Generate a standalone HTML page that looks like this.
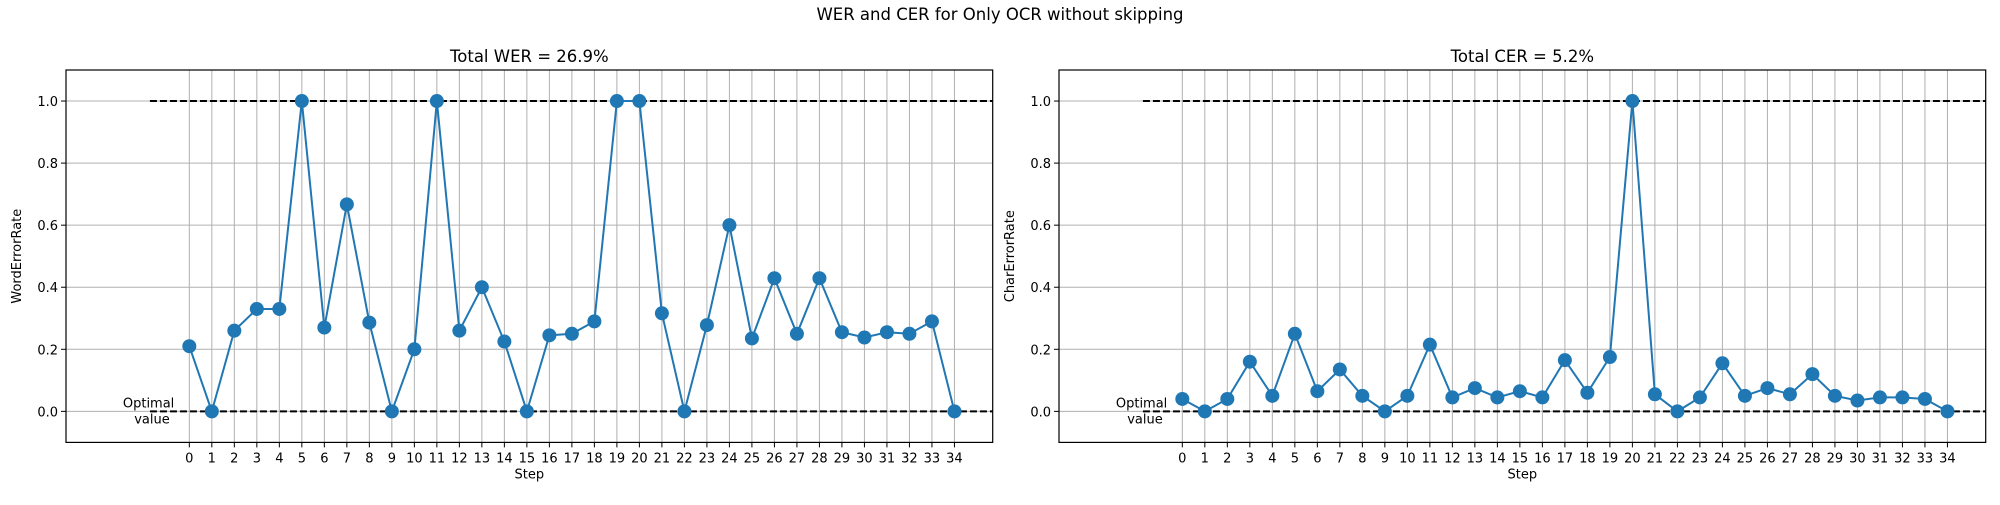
<!DOCTYPE html>
<html><head><meta charset="utf-8"><style>
body{margin:0;background:#fff;}
svg text{font-family:"DejaVu Sans","Liberation Sans",sans-serif;fill:#000;}
</style></head><body>
<svg id="fig" width="2000" height="500" xmlns="http://www.w3.org/2000/svg">
<rect width="2000" height="500" fill="#fff"/>
<text x="1000" y="20" font-size="16.5" text-anchor="middle">WER and CER for Only OCR without skipping</text>
</svg>
<script>
const steps = [0,1,2,3,4,5,6,7,8,9,10,11,12,13,14,15,16,17,18,19,20,21,22,23,24,25,26,27,28,29,30,31,32,33,34];
const werValues = [0.21,0,0.26,0.33,0.33,1,0.27,0.667,0.286,0,0.2,1,0.26,0.4,0.225,0,0.245,0.25,0.29,1,1,0.316,0,0.278,0.6,0.235,0.429,0.25,0.429,0.255,0.238,0.255,0.25,0.29,0];
const cerValues = [0.04,0,0.04,0.16,0.05,0.25,0.065,0.135,0.05,0,0.05,0.215,0.045,0.075,0.045,0.065,0.045,0.165,0.06,0.175,1,0.055,0,0.045,0.155,0.05,0.075,0.055,0.12,0.05,0.035,0.045,0.045,0.04,0];
const yTicks = [0.0,0.2,0.4,0.6,0.8,1.0];
const NS="http://www.w3.org/2000/svg";
const svg=document.getElementById('fig');
function el(tag,attrs,parent){const e=document.createElementNS(NS,tag);for(const k in attrs)e.setAttribute(k,attrs[k]);(parent||svg).appendChild(e);return e;}
function panel(left,title,ylabel,values,key){
  const g=el('g',{});
  
  
  const right=left+926.7, top=70, bottom=442.4;
  const xMin=-5.48, xMax=35.7;
  const X=v=>left+(v-xMin)/(xMax-xMin)*(right-left);
  const Y=v=>top+(1.1-v)/1.2*(bottom-top);
  steps.forEach(s=>{const l=el('line',{x1:X(s),x2:X(s),y1:top,y2:bottom,stroke:'#b0b0b0','stroke-width':1},g);
    });
  yTicks.forEach(t=>{const l=el('line',{x1:left,x2:right,y1:Y(t),y2:Y(t),stroke:'#b0b0b0','stroke-width':1},g);
    });
  [0,1].forEach(v=>{const l=el('line',{x1:X(-1.75),x2:right,y1:Y(v),y2:Y(v),stroke:'#000','stroke-width':2,'stroke-dasharray':'7,3'},g);
    });
  const pts=values.map((v,i)=>X(steps[i])+','+Y(v)).join(' ');
  const pl=el('polyline',{points:pts,fill:'none',stroke:'#1f77b4','stroke-width':2},g);
  
  values.forEach((v,i)=>{const c=el('circle',{cx:X(steps[i]),cy:Y(v),r:7,fill:'#1f77b4'},g);
    });
  const f=el('rect',{x:left,y:top,width:right-left,height:bottom-top,fill:'none',stroke:'#000','stroke-width':1.2},g);
  
  steps.forEach(s=>{el('line',{x1:X(s),x2:X(s),y1:bottom,y2:bottom+5,stroke:'#000'},g);
    const t=el('text',{x:X(s),y:bottom+20,'font-size':13,'text-anchor':'middle'},g);t.textContent=s;
    });
  yTicks.forEach(v=>{el('line',{x1:left-5,x2:left,y1:Y(v),y2:Y(v),stroke:'#000'},g);
    const t=el('text',{x:left-8,y:Y(v)+5,'font-size':13,'text-anchor':'end'},g);t.textContent=v.toFixed(1);
    });
  const tt=el('text',{x:(left+right)/2,y:top-8,'font-size':16.5,'text-anchor':'middle'},g);tt.textContent=title;
  
  const xl=el('text',{x:(left+right)/2,y:bottom+36,'font-size':13,'text-anchor':'middle'},g);xl.textContent='Step';
  
  const yl=el('text',{x:0,y:0,'font-size':13,'text-anchor':'middle',transform:`translate(${left-45},${(top+bottom)/2}) rotate(-90)`},g);yl.textContent=ylabel;
  
  const o1=el('text',{x:X(-1.81),y:Y(0)-4,'font-size':13,'text-anchor':'middle'},g);o1.textContent='Optimal';
  
  const o2=el('text',{x:X(-1.66),y:Y(0)+12,'font-size':13,'text-anchor':'middle'},g);o2.textContent='value';
  
}
panel(66,'Total WER = 26.9%','WordErrorRate',werValues,'wer');
panel(1059,'Total CER = 5.2%','CharErrorRate',cerValues,'cer');
</script>
</body></html>
